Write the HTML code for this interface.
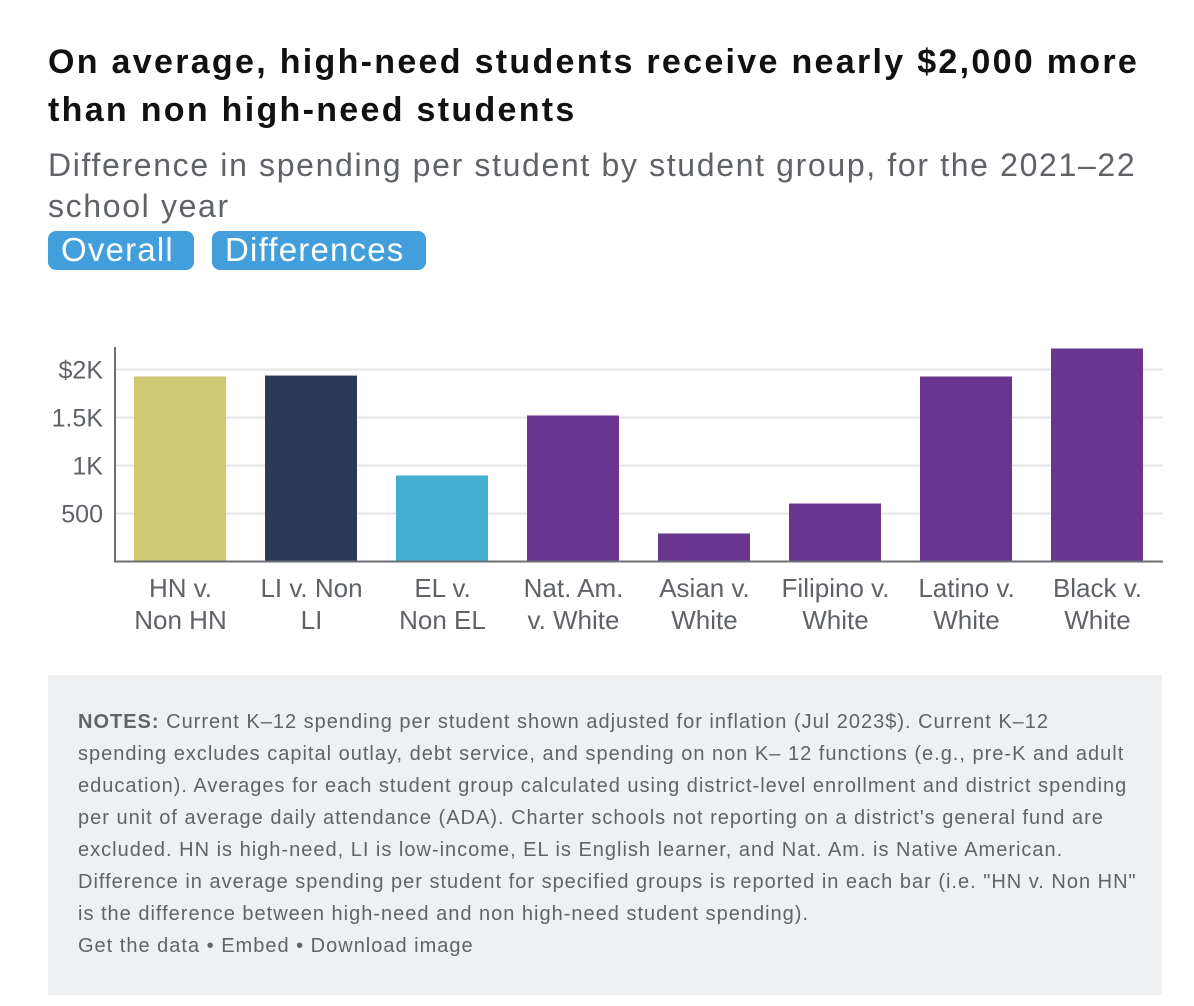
<!DOCTYPE html>
<html><head><meta charset="utf-8"><style>
body{margin:0;width:1194px;height:1006px;background:#fff;font-family:"Liberation Sans",sans-serif;position:relative;overflow:hidden}
.t{position:absolute;left:48px;top:38px;width:1140px;font-size:34px;letter-spacing:2.3px;font-weight:bold;line-height:48px;color:#111;white-space:nowrap}
.s{position:absolute;left:48px;top:145px;width:1140px;font-size:32px;letter-spacing:1.65px;line-height:41px;color:#5f6368;white-space:nowrap}
.btn{position:absolute;top:231px;height:39px;background:#439fdc;color:#fff;font-size:33px;letter-spacing:1.2px;line-height:38px;border-radius:8px;padding-left:13px;box-sizing:border-box;white-space:nowrap}
.notes{position:absolute;left:48px;top:675px;width:1114px;height:320px;background:#eff0f2;box-sizing:border-box;padding:31px 30px;font-size:20px;letter-spacing:1px;line-height:32px;color:#606368;white-space:nowrap}
</style></head><body>
<div class="t">On average, high-need students receive nearly $2,000 more<br>than non high-need students</div>
<div class="s">Difference in spending per student by student group, for the 2021–22<br>school year</div>
<div class="btn" style="left:48px;width:146px">Overall</div>
<div class="btn" style="left:212px;width:214px">Differences</div>
<svg id="chart" width="1194" height="660" style="position:absolute;left:0;top:0"></svg>
<div class="notes"><b>NOTES:</b> Current K–12 spending per student shown adjusted for inflation (Jul 2023$). Current K–12<br>spending excludes capital outlay, debt service, and spending on non K– 12 functions (e.g., pre-K and adult<br>education). Averages for each student group calculated using district-level enrollment and district spending<br>per unit of average daily attendance (ADA). Charter schools not reporting on a district's general fund are<br>excluded. HN is high-need, LI is low-income, EL is English learner, and Nat. Am. is Native American.<br>Difference in average spending per student for specified groups is reported in each bar (i.e. "HN v. Non HN"<br>is the difference between high-need and non high-need student spending).<br><span>Get the data • Embed • Download image</span></div>
<script>
const categories=[["HN v.","Non HN"],["LI v. Non","LI"],["EL v.","Non EL"],["Nat. Am.","v. White"],["Asian v.","White"],["Filipino v.","White"],["Latino v.","White"],["Black v.","White"]];
const values=[1927,1937,896,1521,292,604,1927,2219];
const colors=["#cdca74","#2b3b55","#44afd0","#6a3590","#6a3590","#6a3590","#6a3590","#6a3590"];
const ticks=[500,1000,1500,2000];
const tickLabels=["500","1K","1.5K","$2K"];
const NS="http://www.w3.org/2000/svg";
const svg=document.getElementById('chart');
const x0=115,x1=1163,y0=561.5,k=0.096;
const band=(x1-x0)/categories.length;
const y=v=>y0-v*k;
function mk(t,a){const e=document.createElementNS(NS,t);for(const n in a)e.setAttribute(n,a[n]);svg.appendChild(e);return e;}
ticks.forEach((t,i)=>{
 const g=mk('line',{x1:x0,x2:x1,y1:y(t),y2:y(t),stroke:'#e4e4e4','stroke-width':2});
 
 
 const l=mk('text',{x:103,y:y(t)+9,'text-anchor':'end','font-size':25,fill:'#5f6368','font-family':'Liberation Sans, sans-serif'});
 l.textContent=tickLabels[i];
 
 
});
values.forEach((v,i)=>{
 const bx=x0+band*i+19;
 const r=mk('rect',{x:bx,y:y(v),width:band-39,height:v*k,fill:colors[i]});
 
 
 categories[i].forEach((s,j)=>{
  const t=mk('text',{x:x0+band*(i+0.5),y:597+j*32,'text-anchor':'middle','font-size':26,fill:'#5f6368','font-family':'Liberation Sans, sans-serif'});
  t.textContent=s;
  
  
 });
});
const ax=mk('path',{d:`M${x0} 347V${y0}H${x1}`,fill:'none',stroke:'#6b6e72','stroke-width':2});


</script>
</body></html>
